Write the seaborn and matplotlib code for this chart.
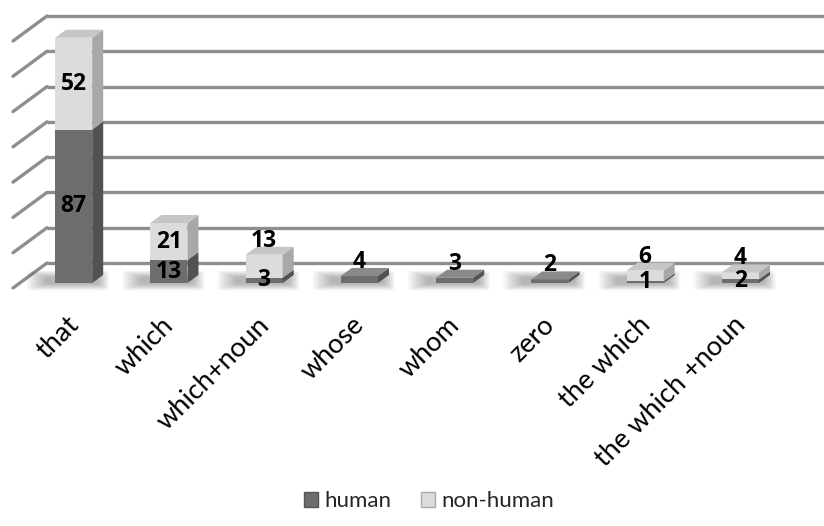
import matplotlib
matplotlib.use("Agg")
import matplotlib.pyplot as plt
import matplotlib.transforms as mtransforms
from matplotlib.patches import Polygon, Patch, FancyBboxPatch
import numpy as np
import pandas as pd
import seaborn as sns

# Data
categories = ["that", "which", "which+noun", "whose", "whom", "zero",
              "the which", "the which +noun"]
human = [87, 13, 3, 4, 3, 2, 1, 2]
non_human = [52, 21, 13, 0, 0, 0, 6, 4]
grid_values = [0, 20, 40, 60, 80, 100, 120, 140]

sns.set_theme(style="white")
plt.rcParams["font.family"] = ["Lato", "DejaVu Sans"]

W, H, DPI = 824, 526, 100
fig = plt.figure(figsize=(W / DPI, H / DPI), dpi=DPI)
fig.patch.set_facecolor("white")

# axes = front plane of the bars
ax_left, ax_bottom, ax_w, ax_h = 26, 243, 762, 247
ax = fig.add_axes([ax_left / W, ax_bottom / H, ax_w / W, ax_h / H])

df = pd.DataFrame({"category": categories, "human": human,
                   "non_human": non_human})
df["total"] = df["human"] + df["non_human"]

dark_front, dark_side, dark_top = "#6d6d6d", "#525252", "#8a8a8a"
light_front, light_side, light_top = "#dcdcdc", "#a8a8a8", "#c6c6c6"
bar_w = 0.39

sns.barplot(data=df, x="category", y="total", color=light_front, width=bar_w,
            saturation=1, linewidth=0, ax=ax, zorder=4)
sns.barplot(data=df, x="category", y="human", color=dark_front, width=bar_w,
            saturation=1, linewidth=0, ax=ax, zorder=4)

ax.set_xlim(-0.5, 7.5)
ax.set_ylim(0, 140)
ax.axis("off")

# pixel -> data unit conversions
px_x = 8 / ax_w
px_y = 140 / ax_h

# depth of the back wall and of each bar
wall_dx, wall_dy = 21 * px_x, 20 * px_y
front_dx, front_dy = -13 * px_x, -5 * px_y
bar_dx, bar_dy = 11 * px_x, 8 * px_y

grid_color = "#8e8e8e"
for v in grid_values:
    ax.plot([-0.5 + wall_dx, 8.2], [v + wall_dy, v + wall_dy],
            color=grid_color, lw=2.4, clip_on=False, zorder=0,
            solid_capstyle="butt")
    ax.plot([-0.5 + front_dx, -0.5 + wall_dx], [v + front_dy, v + wall_dy],
            color=grid_color, lw=2.4, clip_on=False, zorder=0,
            solid_capstyle="round")

# soft shadows under the bars
for i in range(len(categories)):
    x0 = i - bar_w / 2
    for k in range(10):
        grow = k * 2
        sh = FancyBboxPatch((x0 - (10 + grow) * px_x, -(1 + grow * 0.35) * px_y),
                            bar_w + (16 + 1.6 * grow) * px_x, (7 + grow * 0.7) * px_y,
                            boxstyle="round,pad=0,rounding_size=0.03",
                            mutation_aspect=px_y / px_x,
                            facecolor="#000000", edgecolor="none", alpha=0.03,
                            clip_on=False, zorder=1)
        ax.add_patch(sh)

# side and top faces of each stacked segment
for i in range(len(categories)):
    x0, x1 = i - bar_w / 2, i + bar_w / 2
    segments = [(0, human[i], dark_side),
                (human[i], human[i] + non_human[i], light_side)]
    for lo, hi, side_c in segments:
        if hi <= lo:
            continue
        ax.add_patch(Polygon([(x1, lo), (x1 + bar_dx, lo + bar_dy),
                              (x1 + bar_dx, hi + bar_dy), (x1, hi)],
                             closed=True, facecolor=side_c, edgecolor="none",
                             zorder=4, clip_on=False))
    top = human[i] + non_human[i]
    top_c = light_top if non_human[i] > 0 else dark_top
    ax.add_patch(Polygon([(x0, top), (x1, top), (x1 + bar_dx, top + bar_dy),
                          (x0 + bar_dx, top + bar_dy)], closed=True,
                         facecolor=top_c, edgecolor="none", zorder=4,
                         clip_on=False))

# value labels
label_kw = dict(ha="center", va="center", fontsize=16.5, fontweight="bold",
                family=["Open Sans", "DejaVu Sans"], color="black",
                zorder=6, clip_on=False)
for i in range(len(categories)):
    total = human[i] + non_human[i]
    for lo, hi in [(0, human[i]), (human[i], total)]:
        val = hi - lo
        if val <= 0:
            continue
        if hi == total and val < 15:
            y = total + 14 * px_y
        else:
            y = (lo + hi) / 2
        ax.text(i, y, f"{val}", **label_kw)

# category labels
offset = mtransforms.ScaledTranslation(1 / DPI, -38 / DPI, fig.dpi_scale_trans)
for i, name in enumerate(categories):
    ax.text(i, 0, name, rotation=45, ha="right", va="center",
            rotation_mode="anchor", fontsize=19.5, color="black",
            transform=ax.transData + offset, clip_on=False)

handles = [Patch(facecolor=dark_front, edgecolor="#555555", label="human"),
           Patch(facecolor=light_front, edgecolor="#aaaaaa", label="non-human")]
fig.legend(handles=handles, loc="lower center", bbox_to_anchor=(429 / W, -0.01),
           ncol=2, frameon=False, fontsize=16, handlelength=0.65,
           handleheight=0.65, handletextpad=0.3, columnspacing=1.3)

fig.savefig("out.png", dpi=DPI, facecolor="white")
